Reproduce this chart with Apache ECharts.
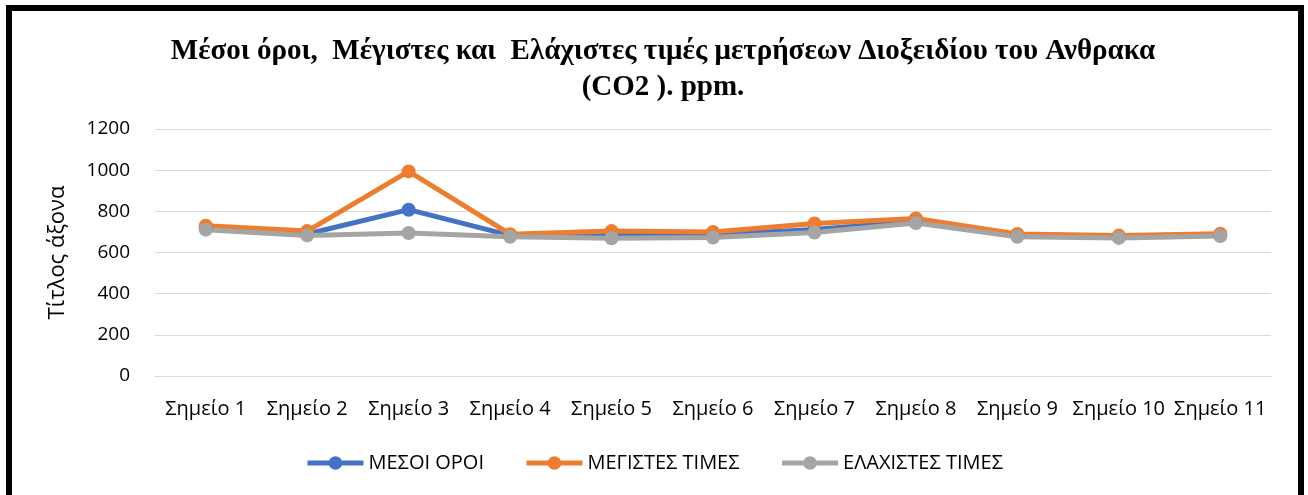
<!DOCTYPE html>
<html>
<head>
<meta charset="utf-8">
<script src="https://cdn.jsdelivr.net/npm/echarts@6/dist/echarts.min.js"></script>
<style>
html,body{margin:0;padding:0;background:#fff;overflow:hidden;}
#frame{position:absolute;left:6px;top:5px;width:1286px;height:500px;border:6px solid #000;border-bottom:none;box-sizing:content-box;}
#chart{position:absolute;left:0;top:0;width:1308px;height:495px;}
</style>
</head>
<body>
<div id="chart"></div>
<div id="frame"></div>
<script>
const categories = ['Σημείο 1','Σημείο 2','Σημείο 3','Σημείο 4','Σημείο 5','Σημείο 6','Σημείο 7','Σημείο 8','Σημείο 9','Σημείο 10','Σημείο 11'];
const meanValues = [718, 690, 808, 683, 686, 686, 712, 752, 681, 676, 684];
const maxValues  = [730, 704, 994, 689, 704, 700, 741, 765, 690, 682, 691];
const minValues  = [711, 683, 695, 676, 669, 673, 697, 743, 676, 671, 680];
const seriesNames = ['ΜΕΣΟΙ ΟΡΟΙ','ΜΕΓΙΣΤΕΣ ΤΙΜΕΣ','ΕΛΑΧΙΣΤΕΣ ΤΙΜΕΣ'];
const yTicks = {min:0, max:1200, interval:200};

const font = '"Open Sans", "Noto Sans", sans-serif';
const colors = ['#4472C4','#ED7D31','#A5A5A5'];
function mk(name, data, color){
  return {name, type:'line', data, symbol:'circle', symbolSize:14,
    lineStyle:{width:5, color}, itemStyle:{color}, emphasis:{disabled:true}};
}
const chart = echarts.init(document.getElementById('chart'), null, {renderer:'canvas'});
chart.setOption({
  animation:false,
  color:colors,
  title:{
    text:'Μέσοι όροι,  Μέγιστες και  Ελάχιστες τιμές μετρήσεων Διοξειδίου του Ανθρακα\n(CO2 ). ppm.',
    left:658, top:29, textAlign:'center',
    textStyle:{fontFamily:'"Liberation Serif", "DejaVu Serif", serif', fontWeight:'bold', fontSize:29, color:'#000', lineHeight:36}
  },
  legend:{
    data:seriesNames, bottom:17, left:'center', itemWidth:56, itemHeight:17, itemGap:40,
    lineStyle:{width:5},
    textStyle:{fontFamily:font, fontSize:20, color:'#000'}
  },
  grid:{left:155, right:37, top:129, bottom:119},
  xAxis:{
    type:'category', data:categories, boundaryGap:true,
    axisLine:{lineStyle:{color:'#D9D9D9', width:1}}, axisTick:{show:false},
    axisLabel:{fontFamily:font, fontSize:20, color:'#000', margin:23, interval:0}
  },
  yAxis:{
    type:'value', min:yTicks.min, max:yTicks.max, interval:yTicks.interval,
    name:'Τίτλος άξονα', nameLocation:'middle', nameGap:86,
    nameTextStyle:{fontFamily:font, fontSize:22, color:'#000'},
    axisLine:{show:false}, axisTick:{show:false},
    axisLabel:{fontFamily:font, fontSize:19, color:'#000', margin:25, formatter:function(v){return String(v);}},
    splitLine:{lineStyle:{color:'#D9D9D9', width:1}}
  },
  series:[mk(seriesNames[0], meanValues, colors[0]), mk(seriesNames[1], maxValues, colors[1]), mk(seriesNames[2], minValues, colors[2])]
});
</script>
</body>
</html>
